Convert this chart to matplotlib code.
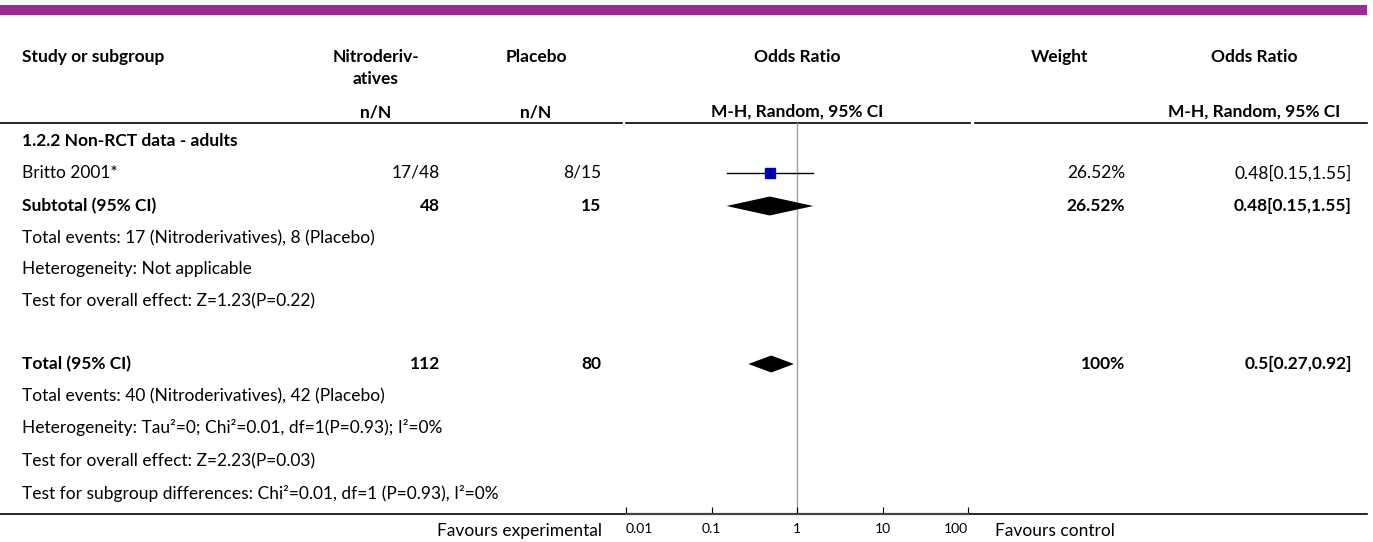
import matplotlib.pyplot as plt
import numpy as np

plt.rcParams['font.family'] = ['Lato', 'DejaVu Sans']

# ---------------- DATA ----------------
study_names = ["Britto 2001*"]
exp_events = [17]
exp_total = [48]
ctl_events = [8]
ctl_total = [15]
study_or = [0.48]
study_lo = [0.15]
study_hi = [1.55]
study_weight = ["26.52%"]

subtotal_n = [48, 15]
subtotal_or = (0.48, 0.15, 1.55)
subtotal_weight = "26.52%"

total_n = [112, 80]
total_or = (0.5, 0.27, 0.92)
total_weight = "100%"

axis_ticks = [0.01, 0.1, 1, 10, 100]
axis_tick_labels = ["0.01", "0.1", "1", "10", "100"]

W, H = 1373, 542
FS = 12.5

fig = plt.figure(figsize=(W / 100, H / 100), dpi=100)
bg = fig.add_axes([0, 0, 1, 1])
bg.set_xlim(0, W)
bg.set_ylim(H, 0)
bg.axis("off")

# purple banner on top
bg.add_patch(plt.Rectangle((0, 5), 1367, 10, color="#9b2a93", lw=0))

# ---------------- HEADER ----------------
def txt(x, y, s, ha="left", bold=False, size=FS):
    bg.text(x, y, s, ha=ha, va="center", fontsize=size,
            fontweight="bold" if bold else "normal", color="black")

txt(22, 57, "Study or subgroup", bold=True)
txt(376, 57, "Nitroderiv-", ha="center", bold=True)
txt(376, 79, "atives", ha="center", bold=True)
txt(536, 57, "Placebo", ha="center", bold=True)
txt(797, 57, "Odds Ratio", ha="center", bold=True)
txt(1060, 57, "Weight", ha="center", bold=True)
txt(1254, 57, "Odds Ratio", ha="center", bold=True)
txt(376, 112, "n/N", ha="center", bold=True)
txt(536, 112, "n/N", ha="center", bold=True)
txt(797, 112, "M-H, Random, 95% CI", ha="center", bold=True)
txt(1254, 112, "M-H, Random, 95% CI", ha="center", bold=True)

for x0, x1 in [(0, 622), (626, 970), (975, 1367)]:
    bg.plot([x0, x1], [122.5, 122.5], color="black", lw=1.2)

# ---------------- ROWS ----------------
txt(22, 141, "1.2.2 Non-RCT data - adults", bold=True)
row_y = [173]
for i, y in enumerate(row_y):
    txt(22, y, study_names[i])
    txt(440, y, f"{exp_events[i]}/{exp_total[i]}", ha="right")
    txt(601, y, f"{ctl_events[i]}/{ctl_total[i]}", ha="right")
    txt(1125, y, study_weight[i], ha="right")
    txt(1352, y, f"{study_or[i]}[{study_lo[i]},{study_hi[i]}]", ha="right")

txt(22, 206, "Subtotal (95% CI)", bold=True)
txt(440, 206, str(subtotal_n[0]), ha="right", bold=True)
txt(601, 206, str(subtotal_n[1]), ha="right", bold=True)
txt(1125, 206, subtotal_weight, ha="right", bold=True)
txt(1352, 206, "{}[{},{}]".format(*subtotal_or), ha="right", bold=True)
txt(22, 238, "Total events: 17 (Nitroderivatives), 8 (Placebo)")
txt(22, 269, "Heterogeneity: Not applicable")
txt(22, 301, "Test for overall effect: Z=1.23(P=0.22)")

txt(22, 364, "Total (95% CI)", bold=True)
txt(440, 364, str(total_n[0]), ha="right", bold=True)
txt(601, 364, str(total_n[1]), ha="right", bold=True)
txt(1125, 364, total_weight, ha="right", bold=True)
txt(1352, 364, "{}[{},{}]".format(*total_or), ha="right", bold=True)
txt(22, 396, "Total events: 40 (Nitroderivatives), 42 (Placebo)")
txt(22, 428, "Heterogeneity: Tau²=0; Chi²=0.01, df=1(P=0.93); I²=0%")
txt(22, 461, "Test for overall effect: Z=2.23(P=0.03)")
txt(22, 493, "Test for subgroup differences: Chi²=0.01, df=1 (P=0.93), I²=0%")

# bottom rule
bg.plot([0, 626], [513.5, 513.5], color="black", lw=1.2)
bg.plot([968, 1367], [513.5, 513.5], color="black", lw=1.2)
txt(602, 531, "Favours experimental", ha="right")
txt(995, 531, "Favours control")

# ---------------- FOREST PANEL ----------------
x_left, x_right = 626, 968
y_top, y_bot = 122.5, 513.5
fp = fig.add_axes([x_left / W, 1 - y_bot / H, (x_right - x_left) / W, (y_bot - y_top) / H])
fp.set_xscale("log")
fp.set_xlim(0.01, 100)
fp.set_ylim(y_bot, y_top)
fp.patch.set_alpha(0)
for side in ["top", "left", "right"]:
    fp.spines[side].set_visible(False)
fp.spines["bottom"].set_color("#444444")
fp.spines["bottom"].set_linewidth(1.6)
fp.set_yticks([])
fp.minorticks_off()
fp.set_xticks(axis_ticks)
fp.set_xticklabels(axis_tick_labels, fontsize=10)
fp.tick_params(axis="x", direction="in", length=5, width=0.8, pad=7, color="black")
tick_texts = fp.get_xticklabels()
tick_texts[0].set_horizontalalignment("left")
tick_texts[-1].set_horizontalalignment("right")

fp.axvline(1, color="#a0a0a0", lw=1.0, zorder=1)

# study squares and CIs
for i, y in enumerate(row_y):
    fp.plot([study_lo[i], study_hi[i]], [y, y], color="black", lw=1.0, zorder=2)
    fp.plot([study_or[i]], [y], marker="s", markersize=7, color="#0000cc",
            markeredgecolor="#0000cc", zorder=3, linestyle="none")
    fp.plot([study_or[i], study_or[i]], [y - 4.5, y + 4.5], color="black", lw=0.6, zorder=4)


def diamond(est, lo, hi, y, half_h):
    xs = [lo, est, hi, est, lo]
    ys = [y, y - half_h, y, y + half_h, y]
    fp.fill(xs, ys, color="black", lw=0, zorder=3)


diamond(*subtotal_or, 206, 9.5)
diamond(*total_or, 364, 8.5)

fig.savefig("out.png", dpi=100)
